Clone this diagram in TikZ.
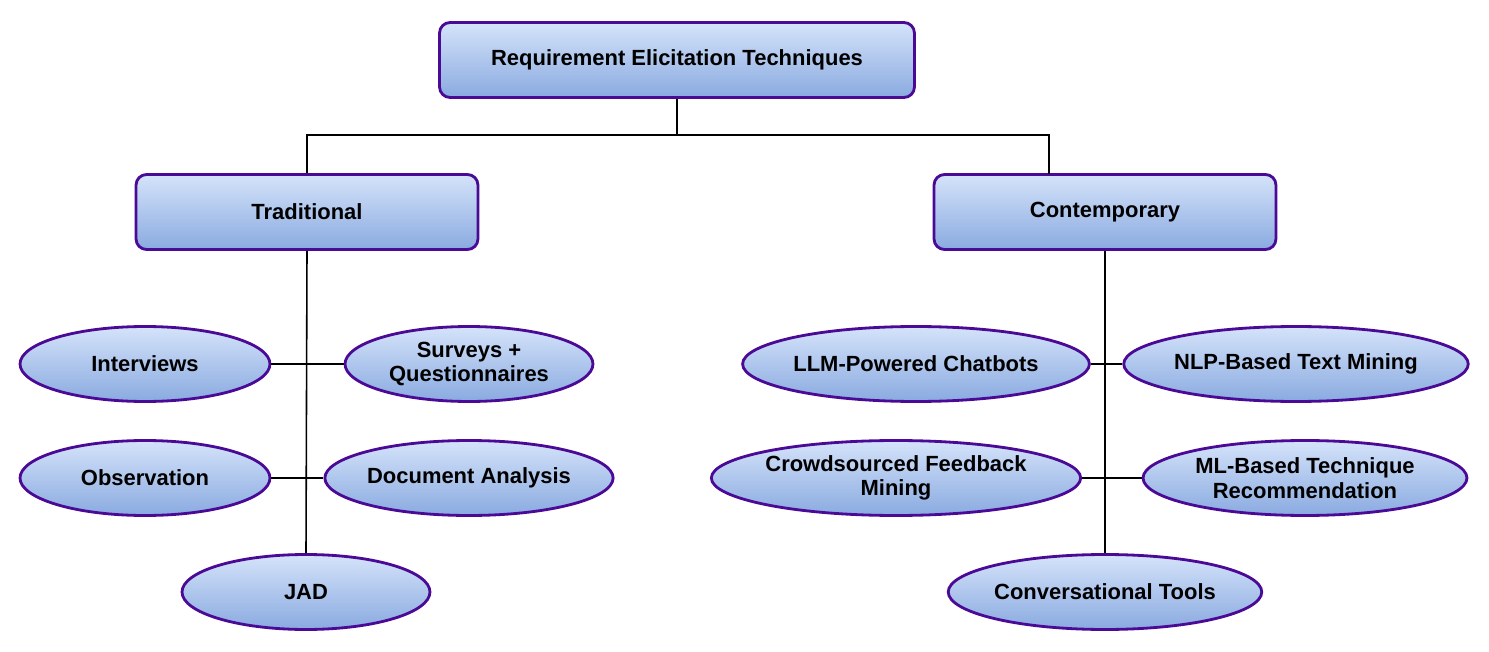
\documentclass[tikz,border=0pt]{standalone}
\usepackage{fontspec}
\setmainfont{Liberation Sans}
\usetikzlibrary{shapes.geometric, positioning}
\definecolor{edgepurple}{HTML}{4B0A96}
\definecolor{topblue}{HTML}{D4E3FA}
\definecolor{botblue}{HTML}{8AAAE0}
\tikzset{
  head/.style={draw=edgepurple, line width=1.6pt, rounded corners=6pt, top color=topblue, bottom color=botblue,
    minimum height=1.5cm, inner sep=0pt, font=\fontsize{12.5}{14}\selectfont\bfseries},
  leaf/.style={ellipse, draw=edgepurple, line width=1.6pt, top color=topblue, bottom color=botblue,
    minimum height=1.5cm, inner sep=0pt, align=center, font=\fontsize{12.5}{14}\selectfont\bfseries},
  link/.style={line width=0.9pt}
}
\begin{document}
\begin{tikzpicture}[x=0.02cm, y=-0.02cm]
\useasboundingbox (0,0) rectangle (1489,652);
\node[head, minimum width=9.5cm] (root) at (677,60) {Requirement Elicitation Techniques};
\node[head, minimum width=6.84cm] (trad) at (307,212) {Traditional};
\node[head, minimum width=6.84cm] (cont) at (1105,212) {Contemporary};
% traditional techniques
\node[leaf, minimum width=5cm] (intv) at (145,364) {Interviews};
\node[leaf, minimum width=4.96cm] (surv) at (469,364) {Surveys +\\Questionnaires};
\node[leaf, minimum width=5cm] (obs) at (145,478) {Observation};
\node[leaf, minimum width=4.96cm] (doc) at (469,478) {Document Analysis};
\node[leaf, minimum width=4.96cm] (jad) at (306,592) {JAD};
% contemporary techniques
\node[leaf, minimum width=6.12cm] (llm) at (916,364) {LLM-Powered Chatbots};
\node[leaf, minimum width=6.12cm] (nlp) at (1296,364) {NLP-Based Text Mining};
\node[leaf, minimum width=6.88cm] (crowd) at (896,478) {Crowdsourced Feedback\\Mining};
\node[leaf, minimum width=6.48cm] (ml) at (1305,478) {ML-Based Technique\\Recommendation};
\node[leaf, minimum width=6.12cm] (conv) at (1105,592) {Conversational Tools};
% connectors
\coordinate (split) at (677,135);
\draw[link] (root.south) -- (split);
\draw[link] (trad.north) |- (split);
\draw[link] (split) -| (1049,174);
\begin{scope}[on background layer/.try]
\draw[link] (trad.south) -- (jad.north);
\draw[link] (cont.south) -- (conv.north);
\end{scope}
\draw[link] (intv) -- (surv);
\draw[link] (obs) -- (doc);
\draw[link] (llm) -- (nlp);
\draw[link] (crowd) -- (ml);
\end{tikzpicture}
\end{document}
